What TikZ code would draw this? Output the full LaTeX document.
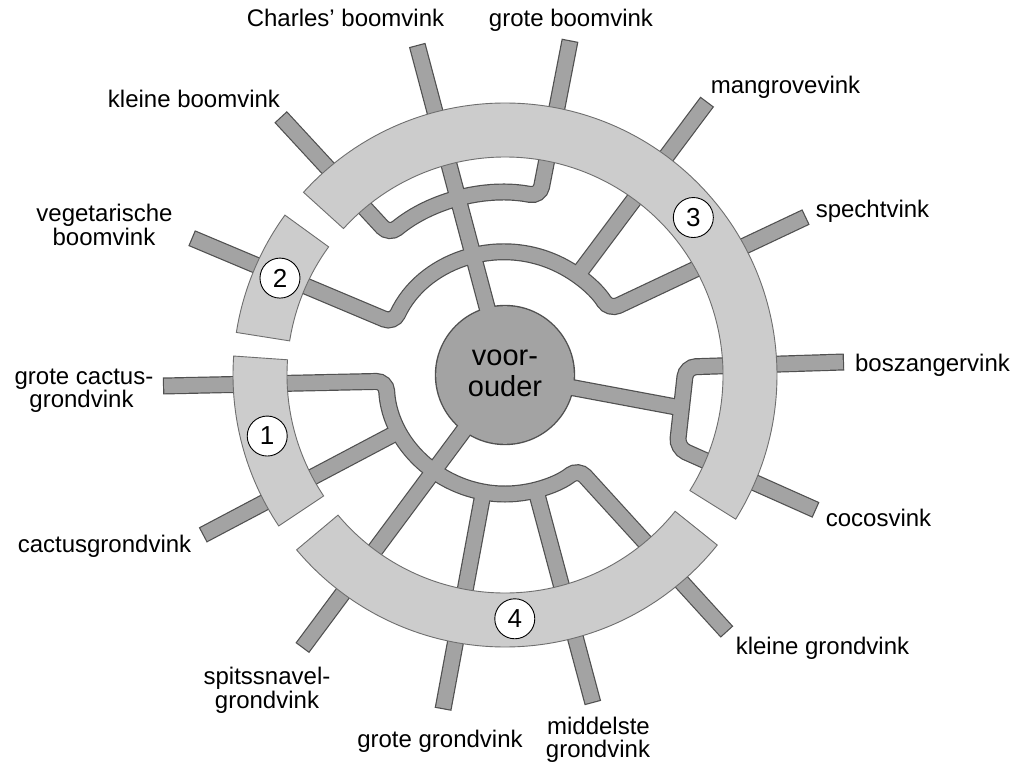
\documentclass[tikz,border=0pt]{standalone}
\usepackage{fontspec}
\setmainfont{Liberation Sans}
\definecolor{edgecol}{HTML}{505050}
\definecolor{brcol}{HTML}{A3A3A3}
\definecolor{ringcol}{HTML}{CCCCCC}
\definecolor{ringedge}{HTML}{6E6E6E}
\newcommand\drawbranches[1]{%
  \draw[#1] (root.center) -- (tCharles);
  \draw[#1] (tKleineBoom) -- (jB1) arc[start angle=129.5, end angle=79, radius=182pt] -- (tGroteBoom);
  \draw[#1] (tVeg) -- (jA1) arc[start angle=155, end angle=32, radius=123pt] -- (tSpecht);
  \draw[#1] (jMang) -- (tMangrove);
  \draw[#1] (tGroteCactus) -- (jC1) arc[start angle=183, end angle=308, radius=119pt] -- (tKleineGrond);
  \draw[#1] (jCac) -- (tCactus);
  \draw[#1] (root.center) -- (tSpits);
  \draw[#1] (jGG) -- (tGroteGrond);
  \draw[#1] (jMid) -- (tMiddel);
  \draw[#1] (root.center) -- (jR);
  \draw[#1] (tBosz) -- (jR1) -- (jR2) -- (tCocos);
}
\begin{document}
\begin{tikzpicture}[x=1pt,y=1pt,
  brout/.style={draw=edgecol, line width=17pt, rounded corners=10pt},
  brin/.style={draw=brcol, line width=14.6pt, rounded corners=10pt, shorten <=1.2pt, shorten >=1.2pt},
  ringseg/.style={fill=ringcol, draw=ringedge, line width=0.9pt},
  numc/.style={circle, draw=black, line width=0.9pt, fill=white, minimum size=40pt, inner sep=0pt, font=\fontsize{26}{26}\selectfont},
  lab/.style={anchor=base, inner sep=0pt, font=\fontsize{24}{24}\selectfont, text=black},
  rootlab/.style={anchor=base, inner sep=0pt, font=\fontsize{29}{29}\selectfont, text=black},
  rootdisc/.style={circle, fill=edgecol, minimum size=140.4pt, inner sep=0pt},
]
\useasboundingbox (-505,-387) rectangle (511,375);
\fill[white] (-505,-387) rectangle (511,375);

% tips
\coordinate (tCharles) at (104.9:341.5);
\coordinate (tGroteBoom) at (79:341);
\coordinate (tKleineBoom) at (131:342);
\coordinate (tMangrove) at (53.5:340);
\coordinate (tVeg) at (156.4:342);
\coordinate (tSpecht) at (27.7:340);
\coordinate (tBosz) at (339,13);
\coordinate (tCocos) at (311,-135);
\coordinate (tGroteCactus) at (-342,-11);
\coordinate (tCactus) at (207.9:342);
\coordinate (tSpits) at (233.4:340);
\coordinate (tGroteGrond) at (259.5:340);
\coordinate (tMiddel) at (285:339.6);
\coordinate (tKleineGrond) at (222,-257);
% junctions
\coordinate (jB1) at (129.5:182);
\coordinate (jA1) at (155:123);
\coordinate (jMang) at (54:121);
\coordinate (jC1) at (183:119);
\coordinate (jCac) at (208:117);
\coordinate (jGG) at (259.5:117);
\coordinate (jMid) at (285:117);
\coordinate (jR) at (-10.6:179.5);
\coordinate (jR1) at (181,8);
\coordinate (jR2) at (172,-73);

% ancestor disc (outline) and branches
\node[rootdisc] (root) at (0,0) {};
\drawbranches{brout}
\drawbranches{brin}
\fill[brcol] (root.center) circle[radius=68.8pt];

% ring segments
\draw[ringseg] (176:218) arc[start angle=176, end angle=213.7, radius=218pt] -- (213.7:272) arc[start angle=213.7, end angle=176, radius=272pt] -- cycle;
\draw[ringseg] (144:218) arc[start angle=144, end angle=171, radius=218pt] -- (171:272) arc[start angle=171, end angle=144, radius=272pt] -- cycle;
\draw[ringseg] (-32:218) arc[start angle=-32, end angle=137.8, radius=218pt] -- (137.8:272) arc[start angle=137.8, end angle=-32, radius=272pt] -- cycle;
\draw[ringseg] (220:218) arc[start angle=220, end angle=321.3, radius=218pt] -- (321.3:272) arc[start angle=321.3, end angle=220, radius=272pt] -- cycle;

% numbers
\node[numc] (n1) at (194.4:245.5) {1};
\node[numc] (n2) at (156.7:245) {2};
\node[numc] (n3) at (39.9:245.5) {3};
\node[numc] (n4) at (272.3:244) {4};

% labels
\node[rootlab] (lVoor) at (0,9) {voor-};
\node[rootlab] (lOuder) at (0,-22) {ouder};
\node[lab] (lCharles) at (-159.5,348) {Charles’ boomvink};
\node[lab] (lGroteBoom) at (66,348) {grote boomvink};
\node[lab] (lKleineBoom) at (-311,267) {kleine boomvink};
\node[lab] (lMangrove) at (280.5,281) {mangrovevink};
\node[lab] (lVeg1) at (-400.5,153) {vegetarische};
\node[lab] (lVeg2) at (-401,129.5) {boomvink};
\node[lab] (lSpecht) at (367.5,157) {spechtvink};
\node[lab] (lBosz) at (427.5,3) {boszangervink};
\node[lab] (lGC1) at (-421,-10) {grote cactus-};
\node[lab] (lGC2) at (-423.5,-33) {grondvink};
\node[lab] (lCactus) at (-400.5,-177) {cactusgrondvink};
\node[lab] (lCocos) at (373.5,-151) {cocosvink};
\node[lab] (lSp1) at (-238,-309) {spitssnavel-};
\node[lab] (lSp2) at (-238,-333) {grondvink};
\node[lab] (lKG) at (317.5,-279) {kleine grondvink};
\node[lab] (lGG) at (-65,-372) {grote grondvink};
\node[lab] (lMid1) at (93.5,-359) {middelste};
\node[lab] (lMid2) at (93,-382) {grondvink};
\end{tikzpicture}
\end{document}
